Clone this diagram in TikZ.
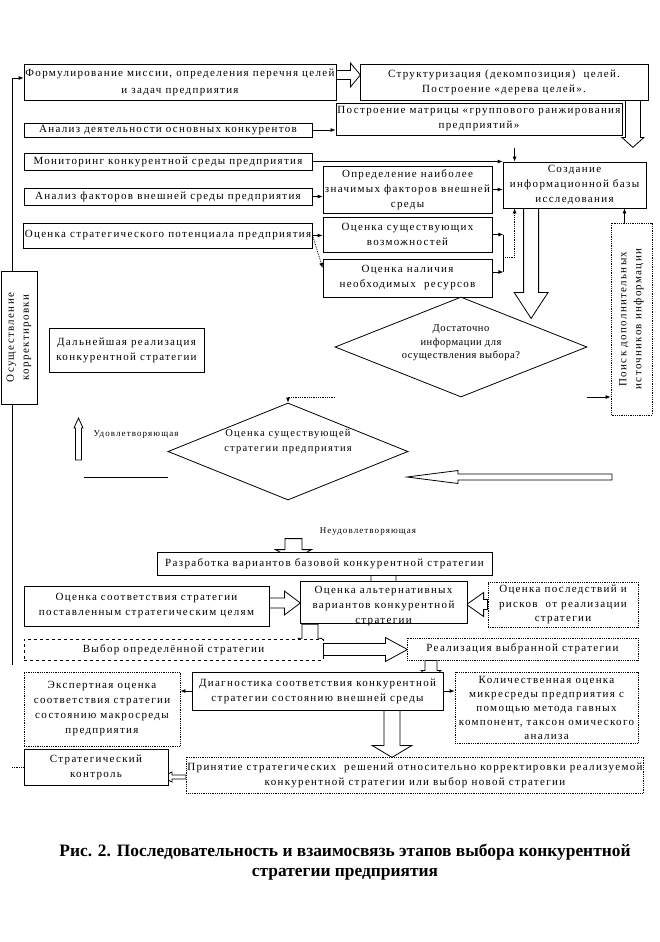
\documentclass[tikz,border=0pt]{standalone}
\usepackage{fontspec}
\setmainfont{Liberation Serif}[LetterSpace=12]
\newfontfamily\capfont{Liberation Serif}
\usetikzlibrary{shapes.geometric, positioning, calc, arrows.meta}

\pgfdeclarelayer{back}
\pgfsetlayers{back,main}

% hollow block arrow: start, angle, length, shaft half, head half, head length
\newcommand{\barr}[6]{%
  \begin{scope}[shift={#1}, rotate=#2]
    \draw[barrow] (0,-#4) -- ({#3-#6},-#4) -- ({#3-#6},-#5) -- (#3,0)
      -- ({#3-#6},#5) -- ({#3-#6},#4) -- (0,#4) -- cycle;
  \end{scope}}

\tikzset{
  box/.style={draw, line width=0.8pt, fill=white, inner sep=1pt, align=center,
    font=\fontsize{11}{15}\selectfont},
  dbox/.style={box, densely dotted},
  sz/.style 2 args={minimum width=#1pt, minimum height=#2pt},
  conn/.style={line width=0.8pt, -{Latex[length=5pt,width=4pt]}},
  line/.style={line width=0.8pt},
  barrow/.style={draw, line width=0.8pt, fill=white},
  lbl/.style={font=\fontsize{9}{11}\selectfont, inner sep=0pt}
}

\begin{document}
\begin{tikzpicture}[x=1pt, y=-1pt]
    \useasboundingbox (0,0) rectangle (660,942);

    % Upper block: goals and analysis
    \node[box, sz={312}{36}, font=\fontsize{11}{17}\selectfont] (form) at (180,82)
        {Формулирование миссии, определения перечня целей\\ и задач предприятия};
    \node[box, sz={288}{36}] (struct) at (504,82)
        {Структуризация (декомпозиция)~ целей.\\ Построение «дерева целей».};
    \node[box, sz={286}{32}] (matr) at (479,119)
        {Построение матрицы «группового ранжирования\\ предприятий»};
    \node[box, sz={288}{14}, inner sep=0pt] (konk) at (168,130) {Анализ деятельности основных конкурентов};
    \node[box, sz={288}{17}, inner sep=0pt] (monit) at (168,161.5) {Мониторинг конкурентной среды предприятия};
    \node[box, sz={288}{17}, inner sep=0pt] (faktor) at (168,196.5) {Анализ факторов внешней среды предприятия};
    \node[box, sz={169}{47}] (opred) at (407.5,189.5)
        {Определение наиболее\\ значимых факторов внешней\\ среды};
    \node[box, sz={143}{46}] (sozd) at (574.5,185)
        {Создание\\ информационной базы\\ исследования};
    \node[box, sz={288}{25}] (potenc) at (168,235.5) {Оценка стратегического потенциала предприятия};
    \node[box, sz={169}{35}] (vozm) at (407.5,234.5) {Оценка существующих\\ возможностей};
    \node[box, sz={169}{38}] (resurs) at (407.5,278) {Оценка наличия\\ необходимых~ ресурсов};
    \node[dbox, sz={192}{41}, rotate=90] (poisk) at (631.5,319)
        {Поиск дополнительных\\ источников информации};
    \node[box, sz={133}{36}, rotate=90] (korr) at (19,337.5) {Осуществление\\ корректировки};
    \node[box, sz={155}{44}] (dalnei) at (126.5,350) {Дальнейшая реализация\\ конкурентной стратегии};

    % Decisions
    \node[diamond, draw, line width=0.8pt, fill=white, aspect=2.5, inner sep=0pt, sz={252}{100},
        align=center, text height=35.5pt, text depth=12.5pt,
        font=\fontsize{10.5}{13.5}\selectfont\addfontfeature{LetterSpace=5}] (dost) at (461,347)
        {Достаточно\\ информации для\\ осуществления выбора?};
    \node[diamond, draw, line width=0.8pt, fill=white, aspect=2.5, inner sep=0pt, sz={239}{97},
        align=center, text height=22.5pt, text depth=22.5pt,
        font=\fontsize{10.5}{15}\selectfont] (ocenka) at (288,451.5)
        {Оценка существующей\\ стратегии предприятия};
    \node[lbl] (udov) at (136,435) {Удовлетворяющая};
    \node[lbl] (neudov) at (368,532) {Неудовлетворяющая};

    % Lower block: choice of strategy
    \node[box, sz={335}{23}, inner sep=0pt] (razrab) at (324.5,563.5)
        {Разработка вариантов базовой конкурентной стратегии};
    \node[box, sz={245}{40}] (sootv) at (146.5,606)
        {Оценка соответствия стратегии\\ поставленным стратегическим целям};
    \node[box, sz={167}{39}, inner ysep=0pt, text height=42.5pt, text depth=-3.5pt] (alt) at (383.5,602.5)
        {Оценка альтернативных\\ вариантов конкурентной\\ стратегии};
    \node[dbox, sz={150}{45}, font=\fontsize{11}{14.5}\selectfont] (posl) at (563,604.5)
        {Оценка последствий и\\ рисков~ от реализации\\ стратегии};
    \node[box, dashed, sz={299}{21}, inner sep=0pt] (vybor) at (173.5,649.5) {Выбор определённой стратегии};
    \node[dbox, sz={231}{22}, inner sep=0pt] (realiz) at (522.5,649) {Реализация выбранной стратегии};
    \node[box, sz={251}{38}] (diagn) at (317.5,691)
        {Диагностика соответствия конкурентной\\ стратегии состоянию внешней среды};
    \node[dbox, sz={156}{74}] (expert) at (102,709)
        {Экспертная оценка\\ соответствия стратегии\\ состоянию макросреды\\ предприятия};
    \node[dbox, sz={183}{71}, inner ysep=0pt, text height=67.5pt, text depth=3.5pt,
        font=\fontsize{11}{14}\selectfont] (kolich) at (546.5,707.5)
        {Количественная оценка\\ микресреды предприятия с\\ помощью метода гавных\\ компонент, таксон омического\\ анализа};
    \node[dbox, sz={446}{36}] (prinat) at (415,775)
        {Принятие стратегических~ решений относительно корректировки реализуемой\\ конкурентной стратегии или выбор новой стратегии};
    \node[box, sz={144}{36}] (kontrol) at (96,767) {Стратегический\\ контроль};

    % Caption
    \node[font=\capfont\bfseries\fontsize{17.4}{20}\selectfont, align=center] (cap) at (345,862)
        {Рис. 2. Последовательность и взаимосвязь этапов выбора конкурентной\\ стратегии предприятия};

    % Connectors
    \draw[conn] ([xshift=-7pt]korr.east) |- ([yshift=4pt]form.west);
    \draw[line] ([xshift=-7pt]korr.west) -- ++(0,261);
    \draw[conn] (konk.east) -- (konk.east -| matr.west);
    \draw[conn] (monit.east) -- (monit.east -| sozd.west);
    \draw[conn] (faktor.east) -- (faktor.east -| opred.west);
    \draw[conn] (opred.east) -- (opred.east -| sozd.west);
    \draw[conn] (potenc.east) -- (potenc.east -| vozm.west);
    \draw[conn, densely dotted] (potenc.east) -- ([yshift=10pt]resurs.west);
    \draw[conn] (vozm.east) -- ++(11,0) coordinate (b1);
    \draw[conn] ([yshift=6pt]resurs.east) -- ++(11,0) coordinate (b2);
    \draw[line] (b1) -- (b2);
    \draw[conn, densely dotted] ($(b1)!0.6!(b2)$) -| ([xshift=12pt]sozd.south west);
    \draw[conn] ([xshift=12pt,yshift=14pt]sozd.north west) -- ([xshift=12pt]sozd.north west);
    \draw[conn] ([xshift=-7pt]poisk.east) -- ([xshift=-7pt]poisk.east |- sozd.south);
    \coordinate (p1) at (587,397);
    \draw[conn] (p1) -- (p1 -| poisk.north);
    \coordinate (d1) at (335,397.5);
    \draw[conn, densely dotted] (d1) -| (ocenka.north);
    \draw[line] (84,477) -- (168,477);
    \draw[conn] (diagn.west) -- (diagn.west -| expert.east);
    \draw[conn] (diagn.east) -- (diagn.east -| kolich.west);
    \draw[line, densely dotted] (kontrol.west) -- ++(-12,0);

    % Block arrows
    \begin{pgfonlayer}{back}
    \barr{([yshift=7pt]form.east)}{0}{24}{4.5}{12}{10}
    \barr{([xshift=-15.5pt]struct.south east)}{-90}{47}{7.5}{11}{10}
    \barr{([xshift=28.5pt]sozd.south west)}{-90}{110}{7.5}{17}{26}
    \barr{(78.5,460)}{90}{42}{3}{4.5}{10}
    \barr{(612,477)}{180}{205}{3}{6.5}{51}
    \barr{([xshift=-31pt,yshift=13pt]razrab.north)}{-90}{21}{8.5}{18}{10}
    \barr{(alt.north |- razrab.south)}{-90}{20}{12.5}{18}{12}
    \barr{([yshift=3pt]sootv.east)}{0}{31}{5}{12}{16}
    \barr{(posl.west)}{180}{21}{5}{12}{17}
    \barr{([xshift=-73.5pt]alt.south)}{-90}{26}{8}{12}{12}
    \barr{(vybor.east)}{0}{84}{6}{12}{22}
    \barr{([xshift=-91.5pt]realiz.south)}{-90}{20}{6}{10}{10}
    \barr{([xshift=74.5pt]diagn.south)}{-90}{47}{8}{20}{12}
    \barr{([yshift=-2pt]prinat.west)}{180}{24}{2}{5}{10}
    \end{pgfonlayer}
\end{tikzpicture}
\end{document}
